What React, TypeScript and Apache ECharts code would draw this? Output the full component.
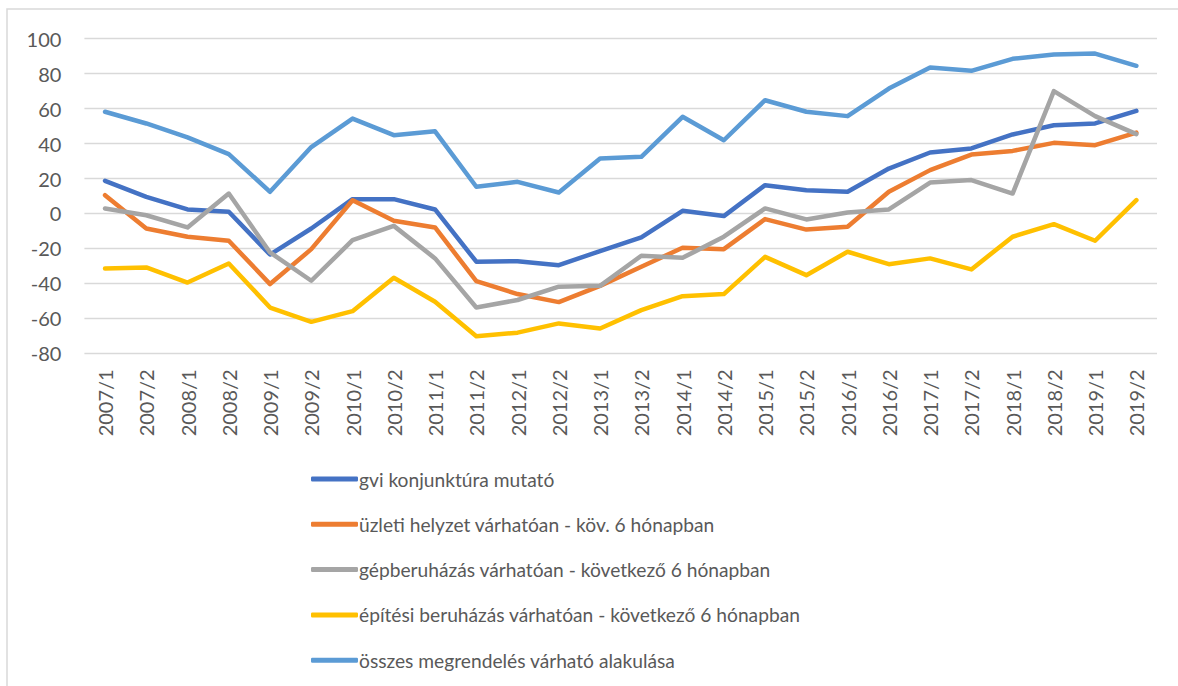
import React, { useEffect, useRef } from "react";
import * as echarts from "echarts";

const categories = [
  "2007/1", "2007/2", "2008/1", "2008/2", "2009/1", "2009/2", "2010/1", "2010/2",
  "2011/1", "2011/2", "2012/1", "2012/2", "2013/1", "2013/2", "2014/1", "2014/2",
  "2015/1", "2015/2", "2016/1", "2016/2", "2017/1", "2017/2", "2018/1", "2018/2",
  "2019/1", "2019/2",
];

const gviKonjunktura = [
  18.7, 9.5, 2.3, 1.0, -23.5, -8.6, 8.2, 8.2, 2.3, -27.6, -27.3, -29.6, -21.5,
  -13.7, 1.5, -1.5, 16.2, 13.3, 12.4, 25.7, 34.9, 37.2, 45.2, 50.5, 51.5, 58.7,
];

const uzletiHelyzet = [
  10.5, -8.6, -13.3, -15.6, -40.4, -20.4, 7.6, -4.2, -8.0, -38.7, -46.1, -50.7,
  -41.4, -30.5, -19.6, -20.4, -3.2, -9.2, -7.6, 12.4, 24.8, 33.7, 35.8, 40.4,
  39.1, 46.3,
];

const gepberuhazas = [
  2.9, -1.0, -8.0, 11.4, -22.3, -38.5, -15.3, -7.1, -25.7, -53.8, -49.5, -41.9,
  -41.4, -24.2, -25.4, -13.3, 2.9, -3.4, 0.6, 2.3, 17.7, 19.1, 11.4, 70.0, 55.7,
  45.4,
];

const epitesiBeruhazas = [
  -31.5, -30.9, -39.5, -28.6, -53.8, -62.0, -55.9, -36.8, -50.5, -70.2, -68.2,
  -62.9, -65.8, -55.3, -47.3, -46.1, -24.8, -35.3, -21.9, -29.0, -25.7, -32.0,
  -13.3, -6.1, -15.6, 7.6,
];

const osszesMegrendeles = [
  58.2, 51.5, 43.5, 34.0, 12.4, 38.0, 54.3, 44.8, 47.0, 15.3, 18.1, 12.0, 31.5,
  32.4, 55.3, 41.9, 64.8, 58.2, 55.7, 71.5, 83.5, 81.6, 88.5, 90.9, 91.5, 84.5,
];

const seriesDefs = [
  { name: "gvi konjunktúra mutató", data: gviKonjunktura, color: "#4472C4" },
  { name: "üzleti helyzet várhatóan - köv. 6 hónapban", data: uzletiHelyzet, color: "#ED7D31" },
  { name: "gépberuházás várhatóan - következő 6 hónapban", data: gepberuhazas, color: "#A5A5A5" },
  { name: "építési beruházás várhatóan - következő 6 hónapban", data: epitesiBeruhazas, color: "#FFC000" },
  { name: "összes megrendelés várható alakulása", data: osszesMegrendeles, color: "#5B9BD5" },
];

const yTicks = [-80, -60, -40, -20, 0, 20, 40, 60, 80, 100];

const FONT = "Lato, 'Liberation Sans', sans-serif";
const TEXT_COLOR = "#595959";

export default function App() {
  const ref = useRef<HTMLDivElement>(null);

  useEffect(() => {
    if (!ref.current) return;
    const chart = echarts.init(ref.current, undefined, { renderer: "svg" });
    chart.setOption({
      animation: false,
      backgroundColor: "#ffffff",
      textStyle: { fontFamily: FONT },
      grid: { left: 84.4, right: 21, top: 38.7, bottom: 332.7, containLabel: false },
      xAxis: {
        type: "category",
        data: categories,
        boundaryGap: true,
        axisLine: { show: false },
        axisTick: { show: false },
        axisLabel: {
          rotate: 90,
          interval: 0,
          margin: 16,
          color: TEXT_COLOR,
          fontSize: 20,
          fontFamily: FONT,
        },
        splitLine: { show: false },
      },
      yAxis: {
        type: "value",
        min: yTicks[0],
        max: yTicks[yTicks.length - 1],
        interval: 20,
        axisLine: { show: false },
        axisTick: { show: false },
        axisLabel: { color: TEXT_COLOR, fontSize: 20, margin: 23, fontFamily: FONT },
        splitLine: { lineStyle: { color: "#d9d9d9", width: 1.3 } },
      },
      legend: {
        orient: "vertical",
        left: 306,
        top: 461,
        icon: "roundRect",
        itemWidth: 47,
        itemHeight: 5,
        itemGap: 19.3,
        textStyle: {
          color: TEXT_COLOR,
          fontSize: 19.2,
          fontFamily: FONT,
          padding: [0, 0, 0, -4],
          lineHeight: 26,
        },
        data: seriesDefs.map((s) => s.name),
      },
      graphic: [
        {
          type: "rect",
          shape: { x: 7, y: 9, width: 1300, height: 800 },
          style: { fill: "none", stroke: "#d9d9d9", lineWidth: 1.5 },
          silent: true,
        },
      ],
      series: seriesDefs.map((s) => ({
        name: s.name,
        type: "line",
        data: s.data,
        color: s.color,
        symbol: "none",
        lineStyle: { width: 4.5, color: s.color, cap: "round", join: "round" },
        itemStyle: { color: s.color },
      })),
    });
    return () => chart.dispose();
  }, []);

  return (
    <div
      ref={ref}
      style={{ position: "fixed", left: 0, top: 0, width: 1178, height: 686 }}
    />
  );
}
